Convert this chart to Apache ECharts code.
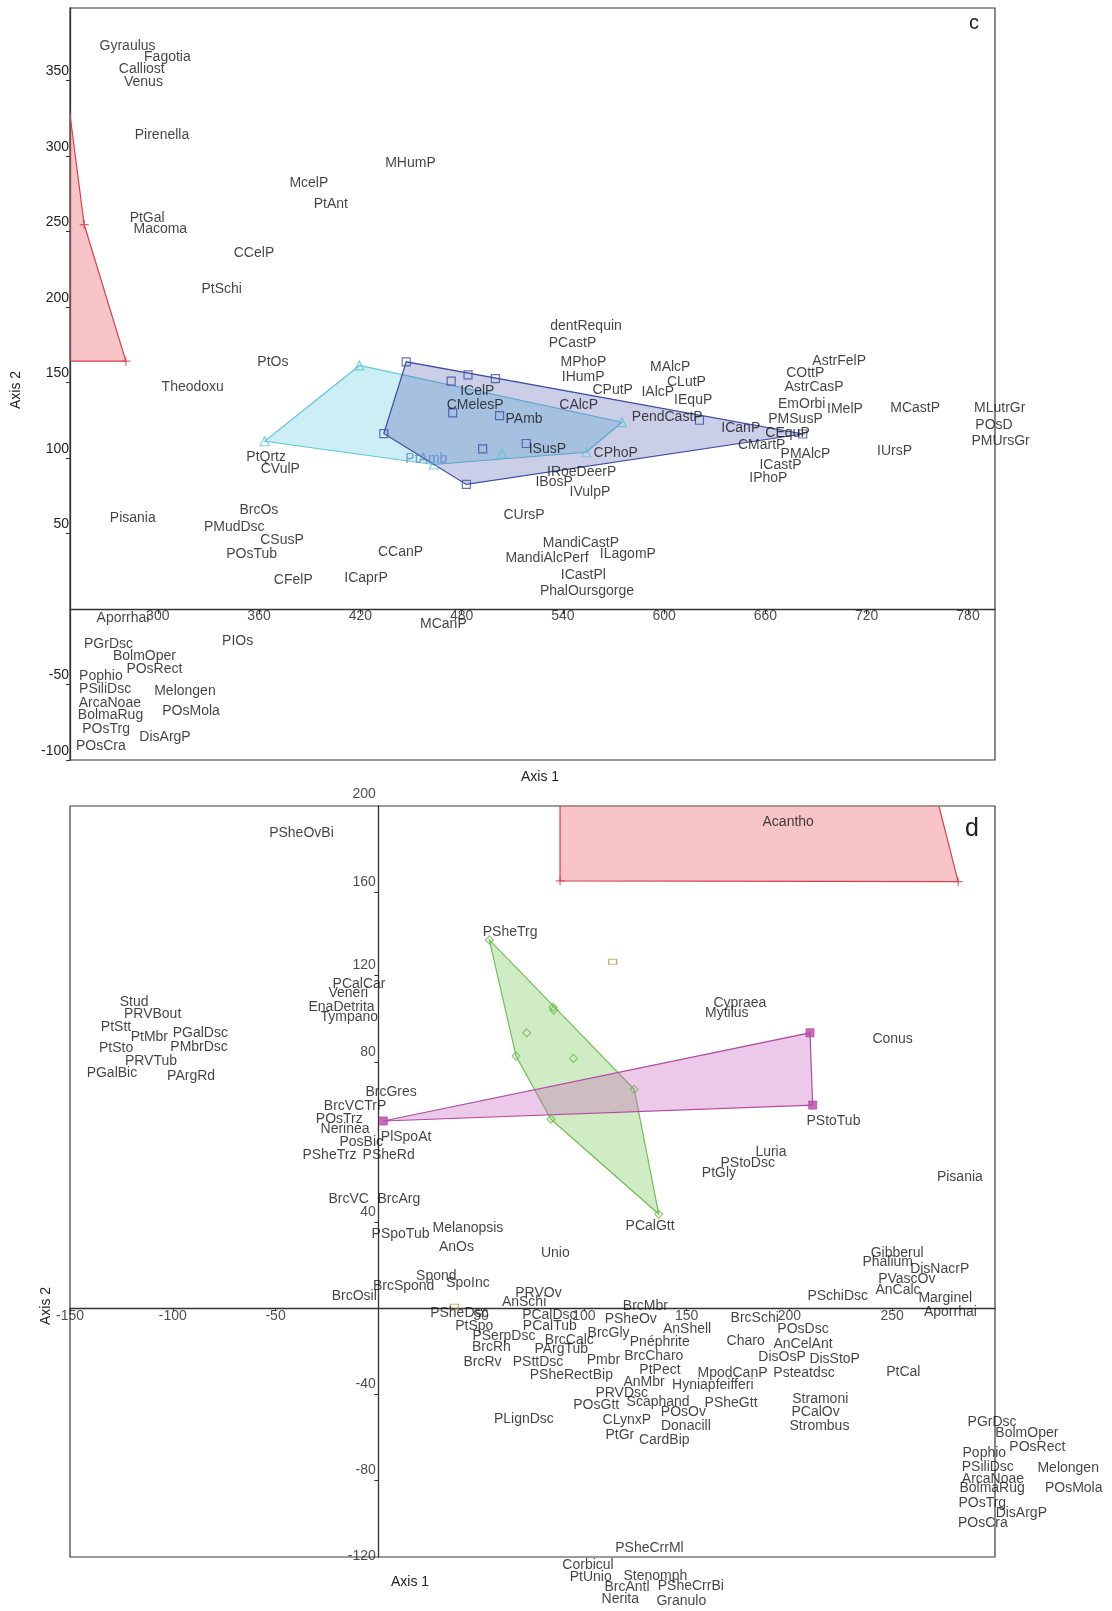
<!DOCTYPE html>
<html><head><meta charset="utf-8">
<script src="https://cdn.jsdelivr.net/npm/echarts@6/dist/echarts.min.js"></script>
<style>html,body{margin:0;padding:0;background:#fff}#c{width:1112px;height:1611px}</style>
</head><body><div id="c"></div><script>
const FONT = '"Liberation Sans", Arial, Helvetica, sans-serif';

// ---------- Panel c ----------
const cXTicks = [300,360,420,480,540,600,660,720,780];
const cYTicks = [-100,-50,50,100,150,200,250,300,350];
const cLabels = [
['Gyraulus',282.1,372.7],['Fagotia',305.7,365.7],['Calliost',290.5,357.7],['Venus',291.5,348.9],
['Pirenella',302.5,313.6],['MHumP',449.7,295.5],['McelP',389.5,282.3],['PtAnt',402.5,267.9],
['PtGal',293.7,259.1],['Macoma',301.5,251.3],['CCelP',357.0,235.9],['PtSchi',337.9,212.1],
['PtOs',368.2,163.4],['Theodoxu',320.7,146.9],['PtQrtz',364.2,100.8],['CVulP',372.6,92.4],
['PtAmb',459.1,99.5],['Pisania',285.2,60.4],['BrcOs',359.9,65.4],['PMudDsc',345.3,54.2],
['CSusP',373.6,45.6],['POsTub',355.6,36.1],['CCanP',443.8,37.6],['CFelP',380.3,19.1],
['ICaprP',423.4,20.7],['Aporrhai',279.4,-6.3],['PIOs',347.3,-21.3],['PGrDsc',270.8,-23.0],
['BolmOper',292.1,-31.3],['POsRect',298.0,-40.1],['Pophio',266.3,-44.5],['PSiliDsc',268.8,-53.3],
['Melongen',316.1,-54.4],['ArcaNoae',271.6,-62.1],['BolmaRug',272.0,-70.3],['POsMola',319.7,-67.7],
['POsTrg',269.4,-79.3],['DisArgP',304.3,-84.6],['POsCra',266.3,-90.9],['MCanP',469.2,-10.3],
['dentRequin',553.7,187.3],['PCastP',545.7,176.3],['MPhoP',552.2,163.4],['IHumP',552.0,153.8],
['MAlcP',603.6,160.4],['CLutP',613.2,150.2],['CPutP',569.5,144.9],['IAlcP',596.2,143.6],
['IEquP',617.2,138.3],['ICelP',489.3,144.2],['CMelesP',488.0,134.8],['CAlcP',549.4,134.8],
['PAmb',517.0,125.5],['PendCastP',601.8,127.3],['ISusP',530.8,106.1],['CPhoP',571.3,103.0],
['IRoeDeerP',551.1,90.6],['IBosP',534.8,84.0],['IVulpP',556.0,77.4],['CUrsP',517.0,61.9],
['MandiCastP',550.7,43.8],['MandiAlcPerf',530.6,33.9],['ILagomP',578.5,36.1],['ICastPl',552.1,22.2],
['PhalOursgorge',554.3,11.8],['AstrFelP',703.7,164.1],['COttP',683.6,156.0],['AstrCasP',688.8,147.2],
['EmOrbi',681.5,135.4],['IMelP',707.1,132.1],['MCastP',748.7,132.8],['MLutrGr',798.8,132.8],
['POsD',795.4,121.7],['PMUrsGr',799.3,111.1],['PMSusP',677.8,126.0],['ICanP',645.4,119.7],
['CEquP',673.1,116.2],['CMartP',657.8,108.3],['PMAlcP',683.7,102.3],['IUrsP',736.5,104.5],
['ICastP',668.9,95.0],['IPhoP',661.7,86.4]
];
const cDarkPts = [[447.2,163.7],[682.1,115.9],[482.8,82.5],[433.9,116.2],[473.8,150.9],[483.8,155.0],
[500.0,152.5],[474.7,129.9],[502.5,128.1],[492.5,106.1],[518.3,109.6],[620.9,125.0]];
const cCyanPts = [[419.5,161.3],[363.3,111.1],[463.5,95.7],[553.8,103.8],[575.0,123.7],[504.0,103.0]];
// red group outline, in drawing order (part of it lies beyond the left frame)
const cRedOutline = [[238,414],[256.4,254.6],[281.1,164.1],[238,164.1]];
const cRedPts = [[256.4,254.6],[281.1,164.1]];

// ---------- Panel d ----------
const dXTicks = [-150,-100,-50,50,100,150,200,250];
const dYTickVals = [-120,-80,-40,40,114.4,154.9,193.5,234.4];
const dYTickText = ['-120','-80','-40','40','80','120','160','200'];
const dLabels = [
['PSheOvBi',-37.4,220.8],['PCalCar',-9.4,150.7],['Veneri',-14.6,146.4],['EnaDetrita',-17.9,140.1],
['Tympano',-14.1,135.2],['Stud',-118.8,142.5],['PRVBout',-109.8,136.6],['PtStt',-127.6,130.6],
['PtMbr',-111.4,126.2],['PGalDsc',-86.6,127.8],['PtSto',-127.6,120.8],['PMbrDsc',-87.2,121.5],
['PRVTub',-110.6,114.6],['PGalBic',-129.6,109.2],['PArgRd',-91.1,107.9],['BrcGres',6.2,100.6],
['BrcVCTrP',-11.3,94.1],['POsTrz',-19.0,87.8],['Nerinea',-16.2,83.1],['PosBic',-8.3,77.3],
['PlSpoAt',13.5,79.4],['PSheTrz',-23.8,71.2],['PSheRd',5.0,71.2],['BrcVC',-14.4,50.6],
['BrcArg',10.0,50.6],['PSpoTub',10.8,34.4],['Melanopsis',43.6,37.1],['AnOs',38.0,28.2],
['Unio',86.1,25.4],['Spond',28.2,14.9],['BrcSpond',12.3,10.4],['SpoInc',43.6,11.5],
['BrcOsil',-11.7,5.3],['PRVOv',77.9,7.1],['AnSchi',70.9,2.7],['BrcMbr',129.9,0.9],
['PCalGtt',132.2,38.1],['PSheDsc',39.4,-2.3],['PtSpo',46.7,-8.4],['PSerpDsc',61.1,-13.0],
['BrcRh',55.0,-18.0],['BrcRv',50.7,-25.4],['PSttDsc',77.7,-25.4],['PLignDsc',70.8,-51.8],
['PCalDsc',83.2,-3.3],['PCalTub',83.4,-8.4],['BrcCalc',92.9,-14.9],['PArgTub',89.0,-19.1],
['PSheRectBip',93.9,-31.2],['PSheOv',122.8,-5.3],['Gibberul',252.4,25.7],['Phalium',247.8,21.5],
['DisNacrP',273.1,18.0],['PVascOv',257.1,13.3],['AnCalc',252.8,8.4],['PSchiDsc',223.5,5.3],
['Marginel',275.8,4.5],['Aporrhai',278.3,-1.7],['AnShell',150.2,-9.9],['BrcSchi',183.1,-4.8],
['POsDsc',206.6,-9.9],['BrcGly',112.0,-11.5],['Pnéphrite',136.9,-15.7],['Charo',178.7,-15.2],
['AnCelAnt',206.6,-16.7],['Pmbr',109.5,-24.2],['BrcCharo',134.0,-22.3],['DisOsP',196.4,-22.9],
['DisStoP',222.0,-23.9],['PtPect',137.0,-28.8],['MpodCanP',172.3,-30.1],['Psteatdsc',207.1,-30.4],
['PtCal',255.4,-29.6],['AnMbr',129.3,-34.7],['Hyniapfeifferi',162.7,-35.8],['PRVDsc',118.4,-39.4],
['POsGtt',106.0,-45.1],['Scaphand',136.1,-44.0],['POsOv',148.4,-48.2],['PSheGtt',171.6,-44.3],
['Stramoni',215.0,-42.5],['PCalOv',212.7,-48.2],['Strombus',214.6,-54.9],['CLynxP',120.9,-52.1],
['Donacill',149.6,-54.9],['PtGr',117.5,-59.1],['CardBip',139.1,-61.4],['PGrDsc',298.6,-52.9],
['BolmOper',315.5,-58.3],['POsRect',320.6,-64.8],['Pophio',294.8,-67.6],['PSiliDsc',296.5,-73.8],
['Melongen',335.6,-74.3],['ArcaNoae',299.0,-79.7],['BolmaRug',298.6,-83.9],['POsMola',338.3,-83.9],
['POsTrg',293.8,-90.6],['DisArgP',312.8,-95.2],['POsCra',294.1,-99.9],['PSheCrrMl',131.9,-111.8],
['Corbicul',102.0,-119.5],['PtUnio',103.3,-125.0],['Stenomph',134.8,-124.7],['BrcAntl',121.0,-129.6],
['PSheCrrBi',152.0,-129.3],['Nerita',117.7,-135.3],['Granulo',147.4,-136.3],['Cypraea',175.9,142.0],
['Mytilus',169.5,137.1],['Conus',250.2,125.1],['PStoTub',221.4,87.1],['Luria',191.0,72.4],
['PStoDsc',179.7,67.3],['PtGly',165.7,62.7],['Pisania',282.9,61.1],['Acantho',199.4,225.9],
['PSheTrg',64.1,174.6]
];
const dGreenPts = [[54.0,171.2],[85.3,138.6],[85.0,139.9],[72.2,128.0],[67.0,117.2],[94.9,116.1],
[124.5,101.7],[84.0,87.8],[136.4,43.7]];
const dMagentaPts = [[2.4,87.0],[210.0,128.0],[211.3,94.4]];
const dOlivePts = [[114.0,161.1],[37.0,0.6]];
const dRedOutline = [[88.4,262],[88.4,198.7],[282.1,198.3],[265.1,262]];
const dRedPts = [[88.4,198.7],[282.1,198.3]];

// ---------- helpers ----------
function hull(pts){
  const p = pts.slice().sort((a,b)=>a[0]-b[0]||a[1]-b[1]);
  const cr=(o,a,b)=>(a[0]-o[0])*(b[1]-o[1])-(a[1]-o[1])*(b[0]-o[0]);
  const lo=[],up=[];
  for(const q of p){while(lo.length>=2&&cr(lo[lo.length-2],lo[lo.length-1],q)<=0)lo.pop();lo.push(q);}
  for(let i=p.length-1;i>=0;i--){const q=p[i];while(up.length>=2&&cr(up[up.length-2],up[up.length-1],q)<=0)up.pop();up.push(q);}
  up.pop();lo.pop();return lo.concat(up);
}
function polySeries(poly, gi, fill, stroke){
  return {type:'custom', xAxisIndex:gi, yAxisIndex:gi, clip:true, silent:true, z:1,
    data:[poly[0]],
    renderItem:(params, api)=>({type:'polygon', shape:{points:poly.map(p=>api.coord(p))},
      style:{fill:fill, stroke:stroke, lineWidth:1.2}})
  };
}
function markerSeries(pts, gi, symbol, size, style){
  return {type:'scatter', xAxisIndex:gi, yAxisIndex:gi, clip:true, silent:true, z:3,
    symbol:symbol, symbolSize:size, itemStyle:style, data:pts};
}
const specialColor = {PtAmb:'#5b86c9'};
function labelSeries(list, gi){
  return {type:'scatter', xAxisIndex:gi, yAxisIndex:gi, clip:false, silent:true, z:10,
    symbolSize:1, itemStyle:{color:'rgba(0,0,0,0)'},
    label:{show:true, position:'inside', formatter:'{b}', color:'#141414', fontSize:14, fontFamily:FONT},
    data:list.map(([n,x,y])=>{
      const d={name:n, value:[x,y]};
      if(gi===0 && specialColor[n]) d.label={color:specialColor[n]};
      return d;
    })
  };
}
const lab = {fontSize:14, color:'#1e1e1e', fontFamily:FONT};
function tickLabelSeries(gi, items, pos, dist, offset){
  return {type:'scatter', xAxisIndex:gi, yAxisIndex:gi, clip:false, silent:true, z:9,
    symbolSize:1, itemStyle:{color:'rgba(0,0,0,0)'},
    label:Object.assign({show:true, position:pos, distance:dist, offset:offset, formatter:'{b}'}, lab),
    data:items.map(([x,y,t])=>({name:t, value:[x,y]}))
  };
}
const PLUS = 'path://M0,5L10,5M5,0L5,10';
const axisCol = '#333';

const chart = echarts.init(document.getElementById('c'), null, {renderer:'canvas'});
chart.setOption({
  animation:false,
  backgroundColor:'#fff',
  grid:[
    {left:70, top:8, width:925, height:752, show:true, borderColor:'#3a3a3a', borderWidth:1.2, backgroundColor:'#fff'},
    {left:70, top:806, width:925, height:751, show:true, borderColor:'#3a3a3a', borderWidth:1.2, backgroundColor:'#fff'}
  ],
  xAxis:[
    {type:'value', gridIndex:0, min:248, max:796, splitLine:{show:false},
     axisLine:{onZero:true, lineStyle:{color:axisCol, width:1.3}},
     axisTick:{customValues:cXTicks, length:5, lineStyle:{color:axisCol}},
     axisLabel:{show:false}},
    {type:'value', gridIndex:1, min:-150, max:300, splitLine:{show:false},
     axisLine:{onZero:true, lineStyle:{color:axisCol, width:1.3}},
     axisTick:{customValues:dXTicks, length:3, lineStyle:{color:axisCol}},
     axisLabel:{show:false}}
  ],
  yAxis:[
    {type:'value', gridIndex:0, min:-100, max:398, splitLine:{show:false},
     axisLine:{onZero:true, lineStyle:{color:axisCol, width:1.3}},
     axisTick:{customValues:cYTicks, length:4, lineStyle:{color:axisCol}},
     axisLabel:Object.assign({customValues:cYTicks, margin:1, verticalAlign:'bottom', padding:[0,0,2,0]}, lab)},
    {type:'value', gridIndex:1, min:-115.8, max:233.5, splitLine:{show:false},
     axisLine:{onZero:true, lineStyle:{color:axisCol, width:1.3}},
     axisTick:{customValues:dYTickVals.filter(v=>v>-115&&v<233), length:4, lineStyle:{color:axisCol}},
     axisLabel:{show:false}}
  ],
  graphic:[
    {type:'text', x:974, y:23, style:{text:'c', font:'20px '+FONT, fill:'#222', textAlign:'center', textVerticalAlign:'middle'}},
    {type:'text', x:972, y:829, style:{text:'d', font:'25px '+FONT, fill:'#222', textAlign:'center', textVerticalAlign:'middle'}},
    {type:'text', x:16, y:390, rotation:Math.PI/2, style:{text:'Axis 2', font:'14px '+FONT, fill:'#222', textAlign:'center', textVerticalAlign:'middle'}},
    {type:'text', x:46, y:1306, rotation:Math.PI/2, style:{text:'Axis 2', font:'14px '+FONT, fill:'#222', textAlign:'center', textVerticalAlign:'middle'}},
    {type:'text', x:540, y:777, style:{text:'Axis 1', font:'14px '+FONT, fill:'#222', textAlign:'center', textVerticalAlign:'middle'}},
    {type:'text', x:410, y:1582, style:{text:'Axis 1', font:'14px '+FONT, fill:'#222', textAlign:'center', textVerticalAlign:'middle'}}
  ],
  series:[
    polySeries(cRedOutline, 0, 'rgba(236,110,118,0.4)', '#d9404c'),
    polySeries(hull(cCyanPts), 0, 'rgba(110,205,225,0.35)', '#62c6da'),
    polySeries(hull(cDarkPts), 0, 'rgba(70,80,170,0.28)', '#3f4ea3'),
    markerSeries(cRedPts, 0, PLUS, 9, {color:'none', borderColor:'#d9404c', borderWidth:1.2}),
    markerSeries(cCyanPts, 0, 'triangle', 9, {color:'rgba(0,0,0,0)', borderColor:'#5cc3d6', borderWidth:1.2}),
    markerSeries(cDarkPts, 0, 'rect', 8, {color:'rgba(0,0,0,0)', borderColor:'#3f4ea3', borderWidth:1.2}),
    labelSeries(cLabels, 0),
    tickLabelSeries(0, cXTicks.map(v=>[v,0,String(v)]), 'bottom', 0, [0,0]),
    polySeries(dRedOutline, 1, 'rgba(236,110,118,0.4)', '#d9404c'),
    polySeries(hull(dGreenPts), 1, 'rgba(120,200,90,0.35)', '#72bf55'),
    polySeries(hull(dMagentaPts), 1, 'rgba(200,100,190,0.35)', '#b24ba0'),
    markerSeries(dRedPts, 1, PLUS, 9, {color:'none', borderColor:'#d9404c', borderWidth:1.2}),
    markerSeries(dGreenPts, 1, 'diamond', 8, {color:'rgba(0,0,0,0)', borderColor:'#6cbf4a', borderWidth:1.2}),
    markerSeries(dMagentaPts, 1, 'rect', 8, {color:'#b84aa6', borderColor:'#b84aa6', borderWidth:1}),
    markerSeries(dOlivePts, 1, 'rect', [8,5], {color:'rgba(0,0,0,0)', borderColor:'#a9a550', borderWidth:1.2}),
    labelSeries(dLabels, 1),
    tickLabelSeries(1, dXTicks.map(v=>[v,0,String(v)]), 'bottom', 1, [0,0]),
    tickLabelSeries(1, dYTickVals.map((v,i)=>[0,v,dYTickText[i]]), 'left', 2, [0,-10])
  ]
});
</script></body></html>
